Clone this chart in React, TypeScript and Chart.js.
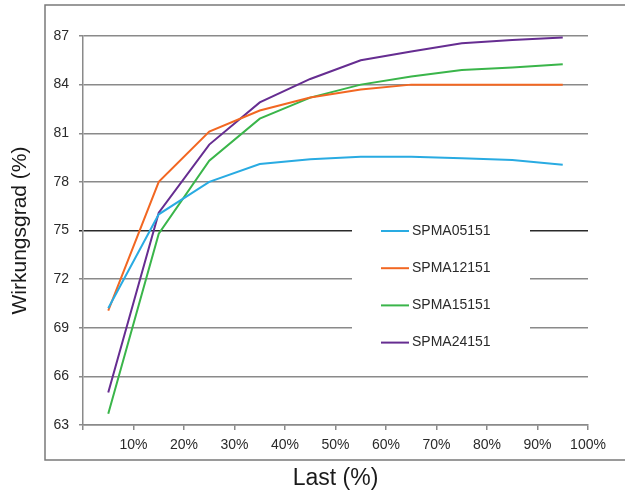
import React, { useEffect, useRef } from "react";
import { Chart, registerables } from "chart.js";

Chart.register(...registerables);

const loads = [5, 15, 25, 35, 45, 55, 65, 75, 85, 95];
const seriesNames = ["SPMA05151", "SPMA12151", "SPMA15151", "SPMA24151"];
const spma05151 = [70.2, 76.0, 78.0, 79.1, 79.4, 79.55, 79.55, 79.45, 79.35, 79.05];
const spma12151 = [70.05, 78.0, 81.1, 82.4, 83.2, 83.7, 84.0, 84.0, 84.0, 84.0];
const spma15151 = [63.7, 74.8, 79.3, 81.9, 83.2, 84.0, 84.5, 84.9, 85.05, 85.25];
const spma24151 = [65.0, 76.1, 80.3, 82.9, 84.35, 85.5, 86.05, 86.55, 86.75, 86.9];
const seriesColors = ["#29ABE2", "#F26722", "#3AB54A", "#662D91"];
const yTickValues = [63, 66, 69, 72, 75, 78, 81, 84, 87];
const xTickValues = [0, 10, 20, 30, 40, 50, 60, 70, 80, 90, 100];

const FONT = "'Liberation Sans', Arial, Helvetica, sans-serif";

const framePlugin = {
  id: "frameAndLegend",
  afterDatasetsDraw(chart: any) {
    const ctx = chart.ctx;
    ctx.save();
    ctx.fillStyle = "#ffffff";
    ctx.fillRect(352, 199, 178, 163);
    const rowStart = 231;
    const rowGap = 37.2;
    ctx.font = `14px ${FONT}`;
    ctx.textBaseline = "middle";
    ctx.textAlign = "left";
    chart.data.datasets.forEach((ds: any, i: number) => {
      const y = rowStart + i * rowGap;
      ctx.strokeStyle = ds.borderColor;
      ctx.lineWidth = 2;
      ctx.beginPath();
      ctx.moveTo(381, y);
      ctx.lineTo(409, y);
      ctx.stroke();
      ctx.fillStyle = "#2a2a2a";
      ctx.fillText(ds.label, 412, y);
    });
    ctx.restore();
  },
  afterDraw(chart: any) {
    const ctx = chart.ctx;
    ctx.save();
    ctx.strokeStyle = "#7a7a7a";
    ctx.lineWidth = 1.5;
    ctx.beginPath();
    ctx.moveTo(640, 5);
    ctx.lineTo(45, 5);
    ctx.lineTo(45, 460);
    ctx.lineTo(640, 460);
    ctx.stroke();
    ctx.restore();
  },
};

export default function App() {
  const ref = useRef<HTMLCanvasElement | null>(null);

  useEffect(() => {
    if (!ref.current) return;
    const allSeries = [spma05151, spma12151, spma15151, spma24151];
    const chart = new Chart(ref.current, {
      type: "line",
      data: {
        datasets: allSeries.map((vals, i) => ({
          label: seriesNames[i],
          data: loads.map((x, j) => ({ x, y: vals[j] })),
          borderColor: seriesColors[i],
          backgroundColor: seriesColors[i],
          borderWidth: 2,
          pointRadius: 0,
          tension: 0,
          fill: false,
        })),
      },
      options: {
        animation: false,
        responsive: false,
        devicePixelRatio: 1,
        layout: { padding: { top: 36, right: 37, left: 0, bottom: 0 } },
        plugins: {
          legend: { display: false },
          tooltip: { enabled: false },
        },
        scales: {
          x: {
            type: "linear",
            min: 0,
            max: 100,
            afterFit: (s: any) => {
              s.height = 65;
            },
            afterBuildTicks: (s: any) => {
              s.ticks = xTickValues.map((v) => ({ value: v }));
            },
            grid: {
              drawOnChartArea: false,
              drawTicks: true,
              tickLength: 5,
              color: "#8a8a8a",
              lineWidth: 1.5,
            },
            border: { display: true, color: "#8a8a8a", width: 1.5 },
            ticks: {
              padding: 7,
              color: "#2a2a2a",
              font: { size: 14, family: FONT },
              maxRotation: 0,
              autoSkip: false,
              callback: (v: any) => (v === 0 ? "" : `${v}%`),
            },
            title: {
              display: true,
              text: "Last (%)",
              color: "#1a1a1a",
              font: { size: 23, family: FONT, lineHeight: 1 },
              padding: { top: 0, bottom: 0 },
            },
          },
          y: {
            min: 63,
            max: 87,
            afterFit: (s: any) => {
              s.width = 83;
            },
            afterBuildTicks: (s: any) => {
              s.ticks = yTickValues.map((v) => ({ value: v }));
            },
            grid: {
              drawOnChartArea: true,
              drawTicks: true,
              tickLength: 4,
              color: (c: any) => (c.tick && c.tick.value === 75 ? "#2a2a2a" : "#8a8a8a"),
              lineWidth: 1.5,
            },
            border: { display: true, color: "#8a8a8a", width: 1.5 },
            ticks: {
              padding: 10,
              color: "#2a2a2a",
              font: { size: 14, family: FONT },
              autoSkip: false,
            },
            title: {
              display: true,
              text: "Wirkungsgrad (%)",
              color: "#1a1a1a",
              font: { size: 21, family: FONT, lineHeight: 1 },
              padding: { top: 10, bottom: 0 },
            },
          },
        },
      },
      plugins: [framePlugin],
    });
    return () => chart.destroy();
  }, []);

  return (
    <div style={{ position: "absolute", left: 0, top: 0, width: 625, height: 490, background: "#fff" }}>
      <canvas ref={ref} width={625} height={490} style={{ display: "block" }} />
    </div>
  );
}
